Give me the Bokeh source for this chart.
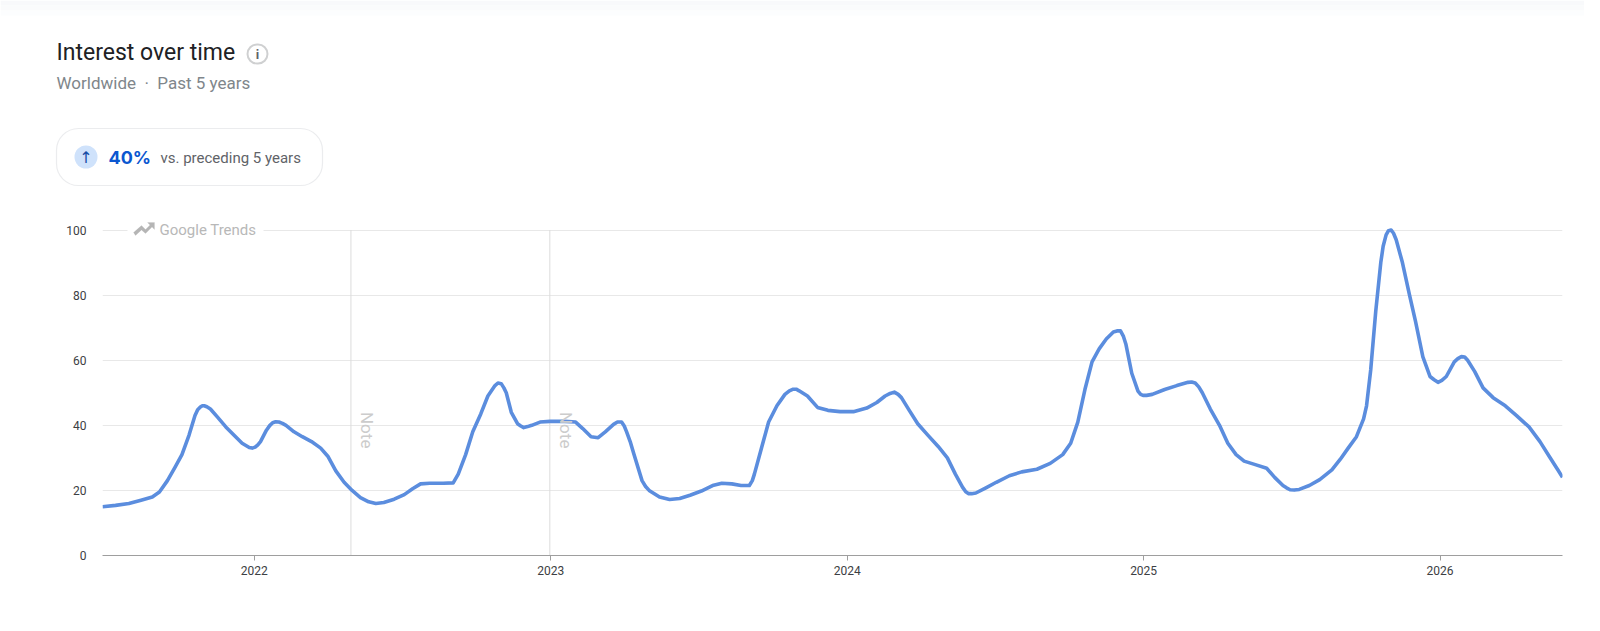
from bokeh.embed import file_html
from bokeh.layouts import column
from bokeh.models import BoxAnnotation, FixedTicker, Label, PolyAnnotation, Range1d
from bokeh.plotting import figure
from bokeh.resources import INLINE

# decimal year, search interest
years = [
    2021.488, 2021.532, 2021.577, 2021.618, 2021.656, 2021.680, 2021.707, 2021.732, 2021.756, 2021.780,
    2021.800, 2021.809, 2021.818, 2021.825, 2021.831, 2021.840, 2021.852, 2021.876, 2021.904, 2021.931,
    2021.959, 2021.983, 2021.993, 2022.003, 2022.012, 2022.021, 2022.041, 2022.052, 2022.062, 2022.072,
    2022.083, 2022.095, 2022.107, 2022.134, 2022.162, 2022.193, 2022.224, 2022.248, 2022.275, 2022.303,
    2022.330, 2022.358, 2022.386, 2022.410, 2022.437, 2022.472, 2022.506, 2022.534, 2022.561, 2022.592,
    2022.637, 2022.671, 2022.688, 2022.713, 2022.737, 2022.764, 2022.788, 2022.812, 2022.822, 2022.833,
    2022.842, 2022.850, 2022.867, 2022.888, 2022.899, 2022.909, 2022.922, 2022.936, 2022.964, 2022.998,
    2023.047, 2023.084, 2023.108, 2023.136, 2023.160, 2023.184, 2023.212, 2023.225, 2023.239, 2023.248,
    2023.256, 2023.268, 2023.281, 2023.308, 2023.320, 2023.332, 2023.367, 2023.401, 2023.435, 2023.470,
    2023.508, 2023.546, 2023.577, 2023.611, 2023.642, 2023.670, 2023.680, 2023.687, 2023.711, 2023.735,
    2023.763, 2023.790, 2023.805, 2023.818, 2023.828, 2023.838, 2023.866, 2023.900, 2023.935, 2023.976,
    2024.021, 2024.066, 2024.100, 2024.128, 2024.145, 2024.159, 2024.172, 2024.183, 2024.210, 2024.238,
    2024.272, 2024.307, 2024.338, 2024.365, 2024.389, 2024.400, 2024.410, 2024.420, 2024.434, 2024.468,
    2024.503, 2024.547, 2024.589, 2024.640, 2024.685, 2024.727, 2024.754, 2024.778, 2024.802, 2024.826,
    2024.850, 2024.874, 2024.898, 2024.910, 2024.922, 2024.932, 2024.940, 2024.960, 2024.981, 2024.990,
    2024.998, 2025.010, 2025.029, 2025.071, 2025.112, 2025.150, 2025.162, 2025.174, 2025.186, 2025.198,
    2025.225, 2025.256, 2025.284, 2025.312, 2025.339, 2025.374, 2025.415, 2025.442, 2025.470, 2025.482,
    2025.494, 2025.508, 2025.525, 2025.559, 2025.594, 2025.635, 2025.663, 2025.690, 2025.718, 2025.742,
    2025.752, 2025.766, 2025.783, 2025.800, 2025.808, 2025.818, 2025.826, 2025.835, 2025.843, 2025.852,
    2025.873, 2025.897, 2025.917, 2025.942, 2025.966, 2025.980, 2025.993, 2026.006, 2026.021, 2026.048,
    2026.060, 2026.072, 2026.083, 2026.093, 2026.117, 2026.145, 2026.179, 2026.220, 2026.258, 2026.300,
    2026.337, 2026.368, 2026.396, 2026.413,
]
interest = [
    15, 15.4, 16, 17, 18, 19.5, 23, 27, 31, 37,
    43, 44.8, 45.6, 46, 46, 45.7, 45, 42.5, 39.5, 37,
    34.5, 33.2, 33, 33.3, 34, 35, 38.5, 39.9, 40.8, 41.1,
    41, 40.6, 40, 38, 36.5, 35, 33, 30.5, 26, 22.5,
    20, 17.8, 16.5, 16, 16.3, 17.3, 18.7, 20.5, 22, 22.2,
    22.2, 22.3, 25, 31, 38, 43.5, 49, 52.2, 53, 52.8,
    51.5, 50, 44, 40.5, 39.8, 39.3, 39.6, 40, 41, 41.2,
    41.2, 41, 39, 36.5, 36.2, 38, 40.3, 41, 41, 39.8,
    38, 35, 31, 23, 21.2, 20, 18, 17.2, 17.5, 18.5,
    19.8, 21.5, 22.2, 22, 21.5, 21.5, 23, 25, 33, 41,
    46, 49.5, 50.6, 51.1, 51.1, 50.6, 49, 45.5, 44.6, 44.2,
    44.2, 45.3, 47, 49, 49.8, 50.2, 49.5, 48.5, 44.5, 40.5,
    37, 33.5, 30, 25, 21, 19.6, 19, 19, 19.2, 20.8,
    22.5, 24.5, 25.7, 26.5, 28.3, 31, 34.5, 41, 51, 59.5,
    63.5, 66.5, 68.7, 69, 69, 67.3, 65, 56, 50.5, 49.5,
    49.2, 49.2, 49.5, 51, 52.2, 53.2, 53.3, 53, 51.8, 50,
    45, 40, 34.5, 31, 29, 28, 26.8, 24, 21.5, 20.8,
    20.2, 20.1, 20.3, 21.5, 23.3, 26.3, 29.5, 33, 36.5, 42,
    46, 57, 75, 90, 95, 98.5, 99.8, 100, 99, 97,
    90, 80, 72, 61, 55, 54, 53.2, 53.8, 55, 59.5,
    60.5, 61.1, 61, 60, 56.5, 51.5, 48.5, 46, 43, 39.5,
    35, 30.5, 26.5, 24,
]
year_ticks = [2022, 2023, 2024, 2025, 2026]
value_ticks = [0, 20, 40, 60, 80, 100]
note_years = [2022.326, 2022.997]

HEADER_HEIGHT = 210
FRAME_LEFT = 102
FRAME_BOTTOM = 555

header = figure(width=1584, height=HEADER_HEIGHT, output_backend="svg", toolbar_location=None,
                x_range=Range1d(0, 1584), y_range=Range1d(0, HEADER_HEIGHT),
                x_axis_type=None, y_axis_type=None, frame_align=False,
                min_border_left=0, min_border_right=0, min_border_top=0, min_border_bottom=0)
header.outline_line_color = None
header.grid.visible = False

p = figure(width=1584, height=FRAME_BOTTOM + 60 - HEADER_HEIGHT, output_backend="svg", toolbar_location=None,
           x_range=Range1d(2021.488, 2026.413), y_range=Range1d(0, 106), frame_align=False,
           min_border_left=FRAME_LEFT, min_border_right=22, min_border_top=0, min_border_bottom=60)
p.outline_line_color = None
p.xgrid.visible = False
p.ygrid.ticker = FixedTicker(ticks=value_ticks)
p.ygrid.grid_line_color = "#e8e8e8"

p.xaxis.ticker = FixedTicker(ticks=year_ticks)
p.xaxis.axis_line_color = "#9e9e9e"
p.xaxis.major_tick_line_color = "#9e9e9e"
p.xaxis.major_tick_in = 0
p.xaxis.major_tick_out = 5
p.xaxis.minor_tick_line_color = None
p.xaxis.major_label_text_font = "Roboto"
p.xaxis.major_label_text_font_size = "12px"
p.xaxis.major_label_text_color = "#3c4043"
p.xaxis.major_label_standoff = 5

p.yaxis.ticker = FixedTicker(ticks=value_ticks)
p.yaxis.axis_line_color = None
p.yaxis.major_tick_line_color = None
p.yaxis.minor_tick_line_color = None
p.yaxis.major_label_text_font = "Roboto"
p.yaxis.major_label_text_font_size = "12px"
p.yaxis.major_label_text_color = "#3c4043"
p.yaxis.major_label_standoff = 10

p.segment(x0=note_years, y0=[0, 0], x1=note_years, y1=[100, 100], line_color="#dcdcdc", line_width=1)
p.line(years, interest, line_color="#5b8dde", line_width=3.6, line_join="round")

for ny in note_years:
    p.add_layout(Label(x=ny, y=38.5, x_offset=16, text="Note", angle=-90, angle_units="deg",
                       text_font="Roboto", text_font_size="17px", text_color="#cccccc",
                       text_align="center", text_baseline="middle"))


# annotations in screen units count from the frame's lower left corner, and stay inside it
def label(fig, left, bottom, x, y, text, size, color, font="Roboto", style="normal", align="left"):
    fig.add_layout(Label(x=x - left, y=bottom - y, x_units="screen", y_units="screen", text=text,
                         text_font=font, text_font_size=size, text_color=color,
                         text_font_style=style, text_baseline="middle", text_align=align))


def box(fig, left, bottom, x0, x1, y0, y1, **kw):
    fig.add_layout(BoxAnnotation(left=x0 - left, right=x1 - left, top=bottom - y0, bottom=bottom - y1,
                                 left_units="screen", right_units="screen", top_units="screen",
                                 bottom_units="screen", **kw))


# faint shadow along the top of the page
for y0, y1, shade in [(0, 5, "#f8f9fb"), (5, 10, "#fafbfc"), (10, 15, "#fcfdfe")]:
    box(header, 0, HEADER_HEIGHT, 0, 1584, y0, y1, fill_color=shade, fill_alpha=1, line_color=None)

# header
label(header, 0, HEADER_HEIGHT, 56, 52, "Interest over time", "23px", "#202124")
label(header, 0, HEADER_HEIGHT, 56, 82, "Worldwide\u00a0\u00a0·\u00a0\u00a0Past 5 years", "17px", "#80868b")
box(header, 0, HEADER_HEIGHT, 247, 267, 44, 63, fill_color="white", fill_alpha=1, line_color="#5f6368",
    line_width=2, border_radius=10)
label(header, 0, HEADER_HEIGHT, 257, 54, "i", "13px", "#5f6368", style="bold", align="center")

# change badge
box(header, 0, HEADER_HEIGHT, 56, 322, 128, 185, fill_color="white", fill_alpha=1, line_color="#bdc1c6",
    line_width=1.2, border_radius=22)
box(header, 0, HEADER_HEIGHT, 74, 97, 145, 168, fill_color="#cfe2fb", fill_alpha=1, line_color=None,
    border_radius=12)
label(header, 0, HEADER_HEIGHT, 85.5, 157, "↑", "16px", "#174ea6", font="DejaVu Sans", align="center")
label(header, 0, HEADER_HEIGHT, 108, 157, "40%", "18px", "#0b57d0", font="Inter", style="bold")
label(header, 0, HEADER_HEIGHT, 160, 157, "vs. preceding 5 years", "15px", "#5f6368")

# Google Trends watermark over the top grid line
box(p, FRAME_LEFT, FRAME_BOTTOM, 127, 263, 222, 237, fill_color="white", fill_alpha=1, line_color=None)
icon_x = [133, 141, 145, 149.5, 147, 154, 154, 151.5, 145, 141, 135]
icon_y = [232, 225, 229, 224.5, 222, 222, 229, 226.5, 233, 229.5, 235]
p.add_layout(PolyAnnotation(xs=[v - FRAME_LEFT for v in icon_x], ys=[FRAME_BOTTOM - v for v in icon_y],
                            xs_units="screen", ys_units="screen", fill_color="#b5b5b5", fill_alpha=1,
                            line_color="#b5b5b5", line_width=0.5))
label(p, FRAME_LEFT, FRAME_BOTTOM, 159, 229, "Google Trends", "15px", "#b8b8b8")

open("out.html", "w").write(file_html(column(header, p, spacing=0), INLINE))
